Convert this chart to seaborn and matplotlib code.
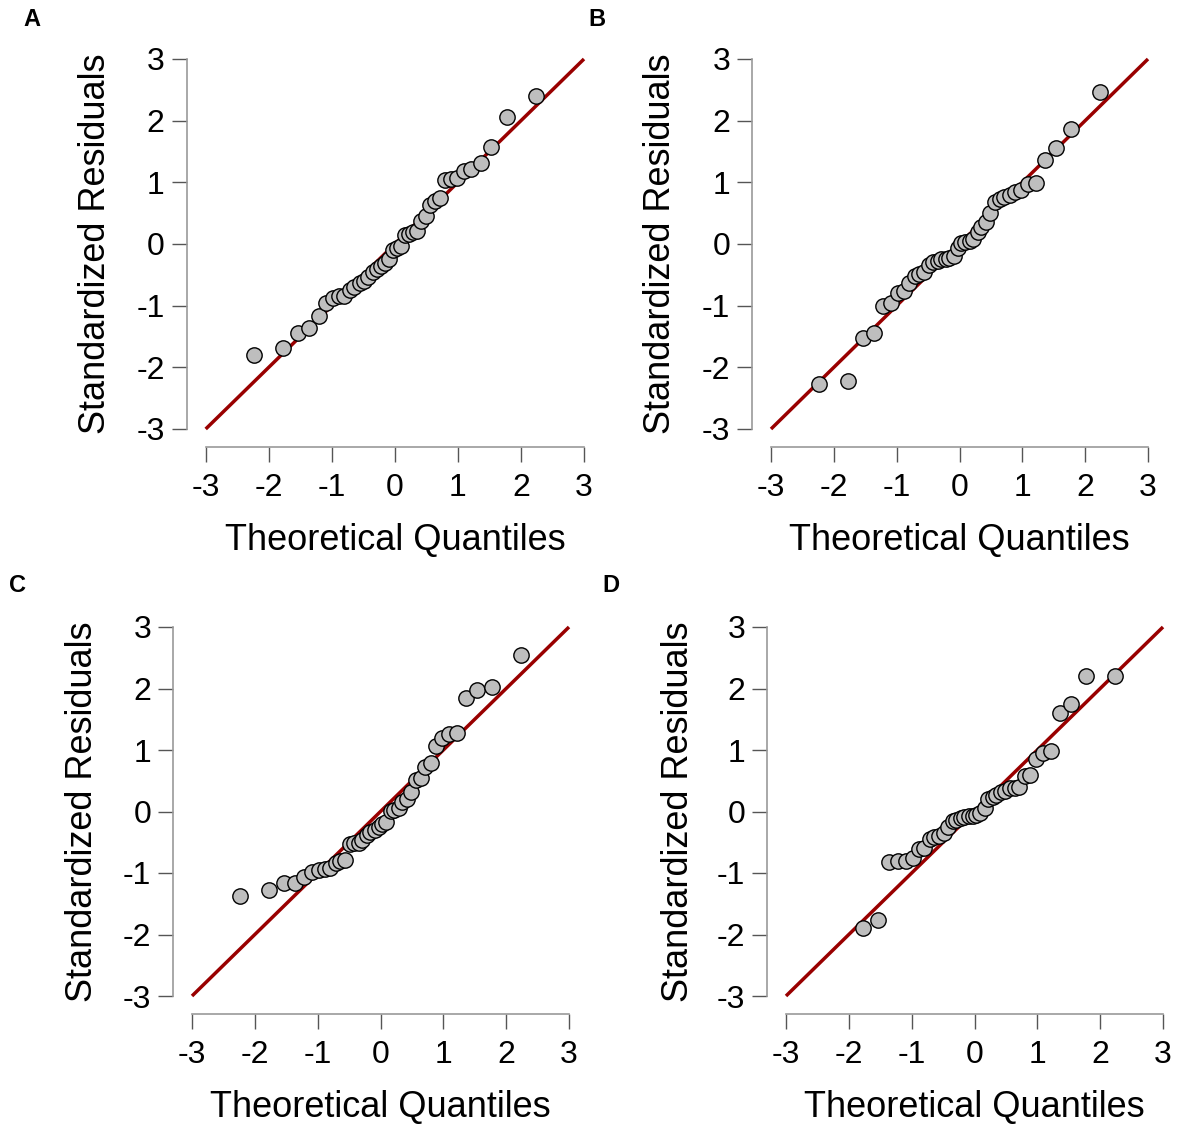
import numpy as np
import pandas as pd
import seaborn as sns
import matplotlib
matplotlib.use("Agg")
import matplotlib.pyplot as plt

# theoretical normal quantiles (n = 40)
theo_q = [-2.24, -1.78, -1.53, -1.36, -1.21, -1.09, -0.98, -0.89, -0.80, -0.71,
          -0.64, -0.56, -0.49, -0.42, -0.35, -0.29, -0.22, -0.16, -0.09, -0.03,
          0.03, 0.09, 0.16, 0.22, 0.29, 0.35, 0.42, 0.49, 0.56, 0.64,
          0.71, 0.80, 0.89, 0.98, 1.09, 1.21, 1.36, 1.53, 1.78, 2.24]

# standardized residuals (sorted) per panel
resid_a = [-1.80, -1.68, -1.45, -1.37, -1.16, -0.95, -0.87, -0.85, -0.84, -0.75,
           -0.70, -0.63, -0.60, -0.53, -0.45, -0.40, -0.35, -0.31, -0.25, -0.10,
           -0.07, -0.04, 0.14, 0.17, 0.19, 0.21, 0.38, 0.45, 0.64, 0.69,
           0.74, 1.03, 1.06, 1.07, 1.19, 1.22, 1.31, 1.58, 2.06, 2.40]
resid_b = [-2.27, -2.22, -1.53, -1.44, -1.00, -0.95, -0.80, -0.77, -0.64, -0.52,
           -0.48, -0.45, -0.34, -0.30, -0.27, -0.25, -0.24, -0.22, -0.20, -0.07,
           0.02, 0.04, 0.05, 0.08, 0.20, 0.28, 0.36, 0.50, 0.68, 0.73,
           0.76, 0.80, 0.85, 0.88, 0.97, 0.99, 1.36, 1.56, 1.87, 2.47]
resid_c = [-1.37, -1.28, -1.17, -1.17, -1.06, -0.98, -0.95, -0.93, -0.92, -0.83,
           -0.80, -0.79, -0.53, -0.51, -0.51, -0.47, -0.38, -0.34, -0.30, -0.25,
           -0.20, -0.17, 0.01, 0.03, 0.05, 0.16, 0.20, 0.31, 0.51, 0.54,
           0.73, 0.79, 1.07, 1.19, 1.26, 1.27, 1.85, 1.98, 2.02, 2.54]
# panel D: lowest point lies below the plotting range and is not shown
resid_d = [-1.90, -1.76, -0.82, -0.80, -0.80, -0.76, -0.61, -0.60, -0.44,
           -0.42, -0.40, -0.35, -0.26, -0.16, -0.14, -0.10, -0.09, -0.08, -0.07,
           -0.05, -0.03, 0.05, 0.20, 0.24, 0.27, 0.31, 0.33, 0.38, 0.39,
           0.40, 0.58, 0.60, 0.85, 0.95, 0.99, 1.60, 1.74, 2.20, 2.20]

ref_line = [-3, 3]
ticks = [-3, -2, -1, 0, 1, 2, 3]
panels = ["A", "B", "C", "D"]

sns.set_theme(style="ticks")
plt.rcParams['font.family'] = ['Liberation Sans', 'DejaVu Sans']

W, H = 1177, 1126
fig = plt.figure(figsize=(W / 100, H / 100), dpi=100)

# pixel position of the -3 and 3 ticks on each axis: (x-3, x3, y3, y-3)
layout = {
    "A": (205.7, 584.0, 59.0, 429.0),
    "B": (771.0, 1148.0, 59.0, 429.0),
    "C": (192.0, 569.0, 627.0, 996.0),
    "D": (786.0, 1163.0, 627.0, 996.0),
}
ylab_x = {"A": 96, "B": 661, "C": 83, "D": 678}
xlab_y = {"A": 541, "B": 541, "C": 1108, "D": 1108}
letter_pos = {"A": (32, 20), "B": (597, 20), "C": (17, 586), "D": (611, 586)}

data = {
    "A": (theo_q, resid_a),
    "B": (theo_q, resid_b),
    "C": (theo_q, resid_c),
    "D": (theo_q[1:], resid_d),
}

ext = 0.24
for p in panels:
    xm, xp, yt, yb = layout[p]
    ux = (xp - xm) / 6
    uy = (yb - yt) / 6
    left = xm - ext * ux
    right = xp + ext * ux
    top = yt - ext * uy
    bottom = yb + ext * uy
    ax = fig.add_axes([left / W, 1 - bottom / H, (right - left) / W, (bottom - top) / H])

    xs, ys = data[p]
    df = pd.DataFrame({"q": xs, "r": ys})
    ax.plot(ref_line, ref_line, color="#990000", lw=2.5, zorder=1, solid_capstyle="butt")
    sns.scatterplot(data=df, x="q", y="r", ax=ax, s=122, color="#BEBEBE",
                    edgecolor="black", linewidth=1.0, zorder=2, clip_on=True)

    ax.set_xlim(-3 - ext, 3 + ext)
    ax.set_ylim(-3 - ext, 3 + ext)
    ax.set_xticks(ticks)
    ax.set_yticks(ticks)
    ax.set_xticklabels([str(t) for t in ticks])
    ax.set_yticklabels([str(t) for t in ticks])
    ax.set_facecolor("white")

    for side in ["top", "right"]:
        ax.spines[side].set_visible(False)
    ax.spines["left"].set_position(("outward", 2.6))
    ax.spines["bottom"].set_position(("outward", 2.1))
    for side in ["left", "bottom"]:
        ax.spines[side].set_bounds(-3, 3)
        ax.spines[side].set_color("#9a9a9a")
        ax.spines[side].set_linewidth(1.2)
    ax.tick_params(axis="both", length=11, width=1.0, color="#555555",
                   labelsize=23, labelcolor="black")
    ax.tick_params(axis="x", pad=8)
    ax.tick_params(axis="y", pad=5)

    ax.set_xlabel("")
    ax.set_ylabel("")
    cx = (xm + xp) / 2
    cy = (yt + yb) / 2
    fig.text(cx / W, 1 - xlab_y[p] / H, "Theoretical Quantiles", ha="center",
             va="center", fontsize=26, color="black")
    fig.text(ylab_x[p] / W, 1 - cy / H, "Standardized Residuals", ha="center",
             va="center", rotation=90, fontsize=26, color="black")
    lx, ly = letter_pos[p]
    fig.text(lx / W, 1 - ly / H, p, ha="center", va="center", fontsize=17,
             fontweight="bold", color="black")

fig.savefig("out.png", dpi=100, facecolor="white")
